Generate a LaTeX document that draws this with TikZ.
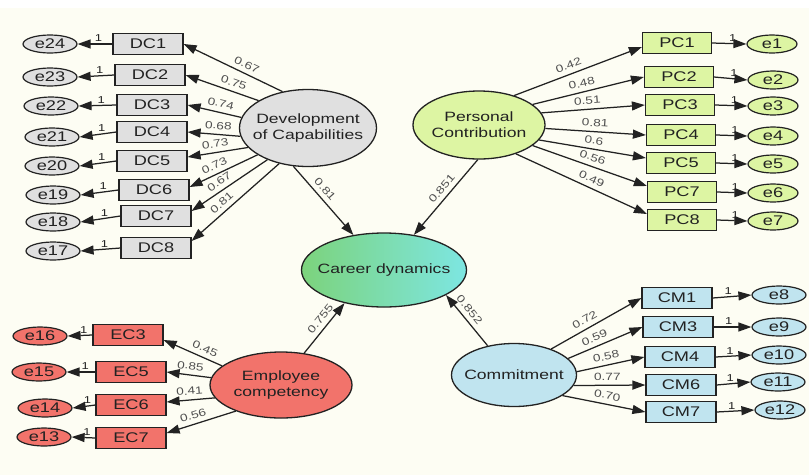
\documentclass[tikz,border=0pt]{standalone}
\usepackage{fontspec}
\setmainfont{Liberation Sans}[FakeStretch=1.3]
\usetikzlibrary{arrows.meta,shapes.geometric}

\definecolor{paper}{HTML}{FDFDF3}
\definecolor{grayfill}{HTML}{E0E0E0}
\definecolor{greenfill}{HTML}{DDF5A3}
\definecolor{redfill}{HTML}{F2736B}
\definecolor{bluefill}{HTML}{C0E4EF}
\definecolor{cdleft}{HTML}{7CD37C}
\definecolor{cdright}{HTML}{7DE6E2}
\definecolor{ink}{HTML}{222222}
\definecolor{lbl}{HTML}{505050}

\begin{document}
\begin{tikzpicture}[x=1pt,y=-1pt,
  latent/.style={ellipse, draw=ink, line width=1.3pt, inner sep=0pt},
  lattext/.style={align=center, text=ink, inner sep=0pt, font=\fontsize{13.5}{16}\selectfont},
  ind/.style={rectangle, draw=ink, line width=1.2pt, minimum width=70pt,
              minimum height=21pt, inner sep=0pt, text=ink, font=\fontsize{14}{14}\selectfont},
  err/.style={ellipse, draw=ink, line width=1.2pt, minimum width=54pt,
              minimum height=18pt, inner sep=0pt, text=ink, font=\fontsize{14}{14}\selectfont},
  link/.style={draw=ink, line width=1.25pt, -{Triangle[length=13pt,width=9pt]}},
  ld/.style={sloped, above=3.5pt, inner sep=1pt, text=lbl, font=\fontsize{10.5}{10.5}\selectfont},
  one/.style={above, inner sep=1.5pt, text=ink, font=\fontsize{10}{10}\selectfont}
]
% page and background
\fill[white] (0,0) rectangle (809,475);
\fill[paper] (0,8) rectangle (809,475);
\useasboundingbox (0,0) rectangle (809,475);

% latent variables
\node[latent, fill=grayfill, minimum width=137pt, minimum height=77pt,
      label={[lattext]center:Development\\of Capabilities}] (dev) at (308,128) {};
\node[latent, fill=greenfill, minimum width=132pt, minimum height=68pt,
      label={[lattext]center:Personal\\Contribution}] (pc) at (479,125) {};
\node[latent, left color=cdleft, right color=cdright, minimum width=165pt, minimum height=74pt,
      label={[lattext]center:Career dynamics}] (career) at (384,270) {};
\node[latent, fill=redfill, minimum width=142pt, minimum height=66pt,
      label={[lattext]center:Employee\\competency}] (ec) at (281,385) {};
\node[latent, fill=bluefill, minimum width=125pt, minimum height=63pt,
      label={[lattext]center:Commitment}] (cm) at (514,375) {};

% Development of Capabilities indicators
\node[ind, fill=grayfill] (dc1) at (148,44) {DC1};
\node[ind, fill=grayfill] (dc2) at (150,75) {DC2};
\node[ind, fill=grayfill] (dc3) at (152,105) {DC3};
\node[ind, fill=grayfill] (dc4) at (152,132) {DC4};
\node[ind, fill=grayfill] (dc5) at (152,161) {DC5};
\node[ind, fill=grayfill] (dc6) at (154,190) {DC6};
\node[ind, fill=grayfill] (dc7) at (156,216) {DC7};
\node[ind, fill=grayfill] (dc8) at (156,248) {DC8};
\node[err, fill=grayfill] (e24) at (50,44) {e24};
\node[err, fill=grayfill] (e23) at (50,77) {e23};
\node[err, fill=grayfill] (e22) at (51,106) {e22};
\node[err, fill=grayfill] (e21) at (52,137) {e21};
\node[err, fill=grayfill] (e20) at (52,166) {e20};
\node[err, fill=grayfill] (e19) at (53,195) {e19};
\node[err, fill=grayfill] (e18) at (53,222) {e18};
\node[err, fill=grayfill] (e17) at (53,251) {e17};

% Personal Contribution indicators
\node[ind, fill=greenfill, minimum width=69pt] (pc1) at (677,43) {PC1};
\node[ind, fill=greenfill, minimum width=69pt] (pc2) at (679,77) {PC2};
\node[ind, fill=greenfill, minimum width=69pt] (pc3) at (680,105) {PC3};
\node[ind, fill=greenfill, minimum width=69pt] (pc4) at (681,135) {PC4};
\node[ind, fill=greenfill, minimum width=69pt] (pc5) at (681,163) {PC5};
\node[ind, fill=greenfill, minimum width=69pt] (pc7) at (682,192) {PC7};
\node[ind, fill=greenfill, minimum width=69pt] (pc8) at (682,220) {PC8};
\node[err, fill=greenfill, minimum width=50pt] (e1) at (772,44) {e1};
\node[err, fill=greenfill, minimum width=50pt] (e2) at (773,80) {e2};
\node[err, fill=greenfill, minimum width=50pt] (e3) at (773,106) {e3};
\node[err, fill=greenfill, minimum width=50pt] (e4) at (773,136) {e4};
\node[err, fill=greenfill, minimum width=50pt] (e5) at (773,164) {e5};
\node[err, fill=greenfill, minimum width=50pt] (e6) at (773,193) {e6};
\node[err, fill=greenfill, minimum width=50pt] (e7) at (773,221) {e7};

% Employee competency indicators
\node[ind, fill=redfill] (ec3) at (128,335) {EC3};
\node[ind, fill=redfill] (ec5) at (131,372) {EC5};
\node[ind, fill=redfill] (ec6) at (131,405) {EC6};
\node[ind, fill=redfill] (ec7) at (131,438) {EC7};
\node[err, fill=redfill] (e16) at (40,336) {e16};
\node[err, fill=redfill] (e15) at (39,372) {e15};
\node[err, fill=redfill] (e14) at (45,408) {e14};
\node[err, fill=redfill] (e13) at (44,437) {e13};

% Commitment indicators
\node[ind, fill=bluefill] (cm1) at (677,298) {CM1};
\node[ind, fill=bluefill] (cm3) at (678,327) {CM3};
\node[ind, fill=bluefill] (cm4) at (680,357) {CM4};
\node[ind, fill=bluefill] (cm6) at (681,385) {CM6};
\node[ind, fill=bluefill] (cm7) at (681,412) {CM7};
\node[err, fill=bluefill] (e8) at (779,295) {e8};
\node[err, fill=bluefill] (e9) at (779,327) {e9};
\node[err, fill=bluefill] (e10) at (779,355) {e10};
\node[err, fill=bluefill] (e11) at (778,382) {e11};
\node[err, fill=bluefill, minimum width=50pt] (e12) at (780,410) {e12};

% loadings: Development of Capabilities
\draw[link] (dev.125) -- (dc1.east) node[ld,pos=0.4]{0.67};
\draw[link] (dev.151) -- (dc2.east) node[ld,pos=0.38]{0.75};
\draw[link] (dev.171) -- (dc3.east) node[ld,pos=0.42]{0.74};
\draw[link] (dev.187) -- (dc4.east) node[ld,pos=0.43]{0.68};
\draw[link] (dev.198) -- ([yshift=4pt]dc5.east) node[ld,pos=0.52]{0.73};
\draw[link] (dev.208) -- ([yshift=3pt]dc6.east) node[ld,pos=0.58]{0.73};
\draw[link] (dev.218) -- ([yshift=5pt]dc7.east) node[ld,pos=0.57]{0.67};
\draw[link] (dev.231) -- ([yshift=7pt]dc8.east) node[ld,pos=0.59]{0.81};

% loadings: Personal Contribution
\draw[link] (pc.40) -- ([yshift=-4pt]pc1.west) node[ld,pos=0.45]{0.42};
\draw[link] (pc.21) -- (pc2.west) node[ld,pos=0.46]{0.48};
\draw[link] (pc.11) -- (pc3.west) node[ld,pos=0.45]{0.51};
\draw[link] (pc.-3) -- (pc4.west) node[ld,pos=0.49]{0.81};
\draw[link] (pc.-14) -- ([yshift=5pt]pc5.west) node[ld,pos=0.5]{0.6};
\draw[link] (pc.-21) -- ([yshift=6pt]pc7.west) node[ld,pos=0.5]{0.56};
\draw[link] (pc.-38) -- ([yshift=6pt]pc8.west) node[ld,pos=0.55]{0.49};

% loadings: Employee competency
\draw[link] (ec.162) -- ([yshift=-5pt]ec3.east) node[ld,pos=0.35]{0.45};
\draw[link] (ec.174) -- (ec5.east) node[ld,pos=0.49]{0.85};
\draw[link] (ec.191) -- ([yshift=3pt]ec6.east) node[ld,pos=0.51]{0.41};
\draw[link] (ec.210) -- ([yshift=5pt]ec7.east) node[ld,pos=0.58]{0.56};

% loadings: Commitment
\draw[link] (cm.35) -- (cm1.west) node[ld,pos=0.42]{0.72};
\draw[link] (cm.17) -- (cm3.west) node[ld,pos=0.4]{0.59};
\draw[link] (cm.3) -- (cm4.west) node[ld,pos=0.46]{0.58};
\draw[link] (cm.-10) -- (cm6.west) node[ld,pos=0.47]{0.77};
\draw[link] (cm.-23) -- (cm7.west) node[ld,pos=0.52]{0.70};

% structural paths
\draw[link] (dev.249) -- (career) node[ld,pos=0.42]{0.81};
\draw[link] (pc.-92) -- (career) node[ld,pos=0.46]{0.851};
\draw[link] (ec.54) -- (career.220) node[ld,pos=0.57]{0.755};
\draw[link] (cm.132) -- (career.-22) node[ld,pos=0.6]{0.852};

% residual paths
\draw[link] (dc1.west) -- (e24.east) node[one,pos=0.4]{1};
\draw[link] (dc2.west) -- (e23.east) node[one,pos=0.4]{1};
\draw[link] (dc3.west) -- (e22.east) node[one,pos=0.4]{1};
\draw[link] (dc4.west) -- (e21.east) node[one,pos=0.4]{1};
\draw[link] (dc5.west) -- (e20.east) node[one,pos=0.4]{1};
\draw[link] (dc6.west) -- (e19.east) node[one,pos=0.4]{1};
\draw[link] (dc7.west) -- (e18.east) node[one,pos=0.4]{1};
\draw[link] (dc8.west) -- (e17.east) node[one,pos=0.4]{1};

\draw[link] (pc1.east) -- (e1.west) node[one,pos=0.6]{1};
\draw[link] (pc2.east) -- (e2.west) node[one,pos=0.6]{1};
\draw[link] (pc3.east) -- (e3.west) node[one,pos=0.6]{1};
\draw[link] (pc4.east) -- (e4.west) node[one,pos=0.6]{1};
\draw[link] (pc5.east) -- (e5.west) node[one,pos=0.6]{1};
\draw[link] (pc7.east) -- (e6.west) node[one,pos=0.6]{1};
\draw[link] (pc8.east) -- (e7.west) node[one,pos=0.6]{1};

\draw[link] (ec3.west) -- (e16.east) node[one,pos=0.35]{1};
\draw[link] (ec5.west) -- (e15.east) node[one,pos=0.35]{1};
\draw[link] (ec6.west) -- (e14.east) node[one,pos=0.35]{1};
\draw[link] (ec7.west) -- (e13.east) node[one,pos=0.35]{1};

\draw[link] (cm1.east) -- (e8.west) node[one,pos=0.4]{1};
\draw[link] (cm3.east) -- (e9.west) node[one,pos=0.4]{1};
\draw[link] (cm4.east) -- (e10.west) node[one,pos=0.4]{1};
\draw[link] (cm6.east) -- (e11.west) node[one,pos=0.4]{1};
\draw[link] (cm7.east) -- (e12.west) node[one,pos=0.4]{1};
\end{tikzpicture}
\end{document}
